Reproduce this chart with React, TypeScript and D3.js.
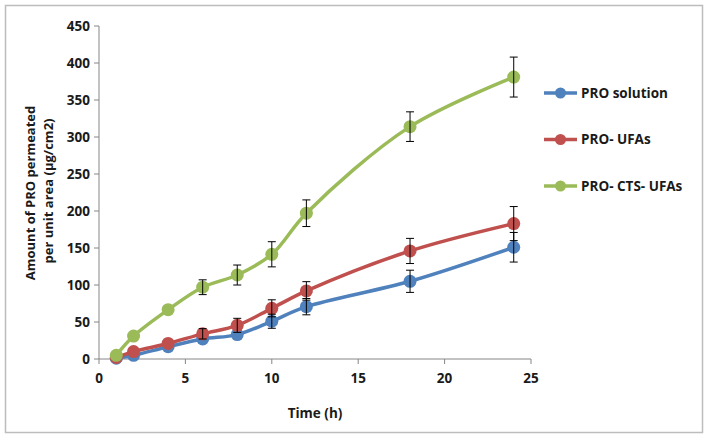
import * as d3 from "d3";

const times = [1, 2, 4, 6, 8, 10, 12, 18, 24];
const seriesNames = ["PRO solution", "PRO- UFAs", "PRO- CTS- UFAs"];
const solutionMean = [1, 5, 16.6, 27, 33, 51, 70.7, 105, 151];
const solutionErr = [0.5, 1, 2, 4, 5, 9.5, 11, 15, 20];
const ufasMean = [2, 10, 21, 34, 45.5, 68.5, 92, 146, 183];
const ufasErr = [0.5, 1, 2, 7, 9.5, 11.5, 12.5, 17, 23];
const ctsMean = [5, 31, 66.6, 97, 113.5, 141.5, 197, 314, 381];
const ctsErr = [0.5, 1.5, 2, 10, 13.5, 17, 18, 20, 27];
const colors = ["#4F81BD", "#C0504D", "#9BBB59"];
const xTicks = [0, 5, 10, 15, 20, 25];
const yTicks = [0, 50, 100, 150, 200, 250, 300, 350, 400, 450];

const W = 708;
const H = 439;
const margin = { left: 99, right: 177, top: 26, bottom: 80 };
const font = "'Open Sans', Lato, sans-serif";
const markerR = 6.5;

export default function App() {
  const x = d3.scaleLinear().domain([0, 25]).range([margin.left, W - margin.right]);
  const y = d3.scaleLinear().domain([0, 450]).range([H - margin.bottom, margin.top]);
  const series = [
    { name: seriesNames[0], mean: solutionMean, err: solutionErr, color: colors[0] },
    { name: seriesNames[1], mean: ufasMean, err: ufasErr, color: colors[1] },
    { name: seriesNames[2], mean: ctsMean, err: ctsErr, color: colors[2] },
  ];
  const line = d3
    .line<number>()
    .x((_, i) => x(times[i]))
    .y((d) => y(d))
    .curve(d3.curveCatmullRom.alpha(0.5));
  const y0 = y(0);

  return (
    <svg width={W} height={H} style={{ position: "absolute", left: 0, top: 0 }} fontFamily={font}>
      <rect x={0} y={0} width={W} height={H} fill="#fff" />
      <rect x={5.5} y={5.5} width={697} height={427} fill="none" stroke="#BDBDBD" strokeWidth={1.5} />

      {/* axes */}
      <line x1={x(0)} x2={x(0)} y1={y(450)} y2={y0} stroke="#868686" />
      <line x1={x(0)} x2={x(25)} y1={y0} y2={y0} stroke="#868686" />
      {yTicks.map((t) => (
        <g key={"y" + t}>
          <line x1={x(0) - 5} x2={x(0)} y1={y(t)} y2={y(t)} stroke="#868686" />
          <text x={x(0) - 9} y={y(t)} dy="0.35em" textAnchor="end" fontSize={13.5} fontWeight="bold" fill="#1a1a1a">
            {t}
          </text>
        </g>
      ))}
      {xTicks.map((t) => (
        <g key={"x" + t}>
          <line x1={x(t)} x2={x(t)} y1={y0} y2={y0 + 5} stroke="#868686" />
          <text x={x(t)} y={y0 + 24} textAnchor="middle" fontSize={13.5} fontWeight="bold" fill="#1a1a1a">
            {t}
          </text>
        </g>
      ))}
      <text x={(x(0) + x(25)) / 2} y={418} textAnchor="middle" fontSize={13.5} fontWeight="bold" fill="#1a1a1a">
        Time (h)
      </text>
      <text transform="translate(35,193) rotate(-90)" textAnchor="middle" fontSize={13} fontWeight="bold" fill="#1a1a1a">
        Amount of PRO permeated
      </text>
      <text transform="translate(53,191) rotate(-90)" textAnchor="middle" fontSize={13} fontWeight="bold" fill="#1a1a1a">
        per unit area (µg/cm2)
      </text>

      {/* series */}
      {series.map((s) => (
        <g key={s.name}>
          <path d={line(s.mean) || ""} fill="none" stroke={s.color} strokeWidth={3.5} />
          {s.mean.map((m, i) => (
            <circle key={i} cx={x(times[i])} cy={y(m)} r={markerR} fill={s.color} />
          ))}
        </g>
      ))}
      {series.map((s) => (
        <g key={s.name + "err"} stroke="#000" strokeWidth={1}>
          {s.mean.map((m, i) => {
            const top = y(m + s.err[i]);
            const bot = y(m - s.err[i]);
            // bars shorter than the marker stay hidden behind it
            if (bot - top < markerR * 1.5) return null;
            const cx = x(times[i]);
            return (
              <g key={i}>
                <line x1={cx} x2={cx} y1={top} y2={bot} />
                <line x1={cx - 4} x2={cx + 4} y1={top} y2={top} />
                <line x1={cx - 4} x2={cx + 4} y1={bot} y2={bot} />
              </g>
            );
          })}
        </g>
      ))}

      {/* legend */}
      {series.map((s, i) => (
        <g key={s.name + "leg"} transform={`translate(544,${93 + i * 46.5})`}>
          <line x1={0} x2={33} y1={0} y2={0} stroke={s.color} strokeWidth={3.5} />
          <circle cx={16.5} cy={0} r={5.5} fill={s.color} />
          <text x={37} y={0} dy="0.35em" fontSize={13.5} fontWeight="bold" fill="#1a1a1a">
            {s.name}
          </text>
        </g>
      ))}
    </svg>
  );
}
